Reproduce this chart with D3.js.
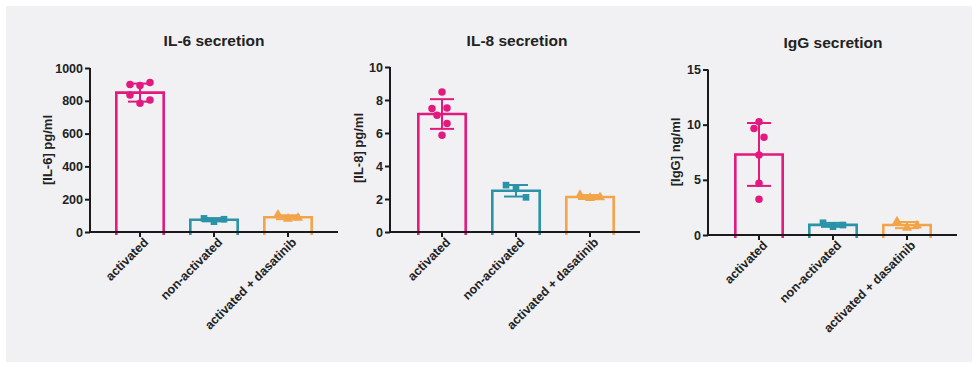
<!DOCTYPE html>
<html>
<head>
<meta charset="utf-8">
<script src="https://cdn.jsdelivr.net/npm/d3@7"></script>
<style>
  html, body { margin: 0; padding: 0; background: #ffffff; }
  svg { display: block; }
  text { font-family: "Liberation Sans", Arial, Helvetica, sans-serif; fill: #222; }
</style>
</head>
<body>
<svg id="chart" width="978" height="367"></svg>
<script>
// ---------- DATA ----------
const categories = ["activated", "non-activated", "activated + dasatinib"];
const titles = ["IL-6 secretion", "IL-8 secretion", "IgG secretion"];
const yLabels = ["[IL-6] pg/ml", "[IL-8] pg/ml", "[IgG] ng/ml"];

const il6Ticks = [0, 200, 400, 600, 800, 1000];
const il8Ticks = [0, 2, 4, 6, 8, 10];
const iggTicks = [0, 5, 10, 15];

const il6Means = [850, 75, 90];
const il6SD = [55, 10, 12];
const il6Points = [[900, 894, 912, 835, 785, 805], [83, 63, 78], [104, 80, 86]];

const il8Means = [7.15, 2.5, 2.12];
const il8SD = [0.9, 0.35, 0.12];
const il8Points = [[8.49, 7.48, 7.52, 7.08, 6.57, 5.87], [2.84, 2.64, 2.1], [2.24, 2.05, 2.1]];

const iggMeans = [7.3, 0.92, 0.9];
const iggSD = [2.85, 0.18, 0.28];
const iggPoints = [[10.26, 9.66, 8.85, 7.25, 4.68, 3.23], [1.11, 0.75, 0.9], [1.22, 0.65, 0.85]];

// ---------- LAYOUT / STYLE ----------
const colors = ["#e2197e", "#2a93a7", "#f2a449"];
const shapes = [d3.symbolCircle, d3.symbolSquare, d3.symbolTriangle];
const symbolSizes = [44, 44, 44];
const jitter6 = [[-10, 0, 10, -10, 0, 10], [0, -10, 5, -5, 5, 0], [0, -5, 5, 0, 0, 0]];
const jitter3 = [-10, 0, 10];

const panels = [
  { means: il6Means, sd: il6SD, points: il6Points, ticks: il6Ticks, max: 1000,
    axisX: 90, y0: 232, yTop: 68, band: [103, 325], titleX: 214, titleY: 46,
    labX: 49, labY: 150, j6: jitter6[0] },
  { means: il8Means, sd: il8SD, points: il8Points, ticks: il8Ticks, max: 10,
    axisX: 390, y0: 232, yTop: 67, band: [405, 627], titleX: 517, titleY: 46,
    labX: 360, labY: 148, j6: jitter6[1] },
  { means: iggMeans, sd: iggSD, points: iggPoints, ticks: iggTicks, max: 15,
    axisX: 708, y0: 235, yTop: 69.5, band: [722, 944], titleX: 833, titleY: 48,
    labX: 677, labY: 152, j6: jitter6[2] }
];

const svg = d3.select("#chart");
svg.append("rect").attr("x", 6).attr("y", 6).attr("width", 966).attr("height", 356)
  .attr("fill", "#f1f1f3");

panels.forEach((p, pi) => {
  const g = svg.append("g");
  const y = d3.scaleLinear().domain([0, p.max]).range([p.y0, p.yTop]);
  const x = d3.scaleBand().domain(categories).range(p.band)
    .paddingInner(0.36).paddingOuter(0.18);

  // title
  g.append("text").attr("x", p.titleX).attr("y", p.titleY)
    .attr("text-anchor", "middle").attr("font-size", "15.5px").attr("font-weight", "bold")
    .text(titles[pi]);

  // y label
  g.append("text")
    .attr("transform", `translate(${p.labX},${p.labY}) rotate(-90)`)
    .attr("text-anchor", "middle").attr("dominant-baseline", "middle")
    .attr("font-size", "13px").attr("font-weight", "bold")
    .text(yLabels[pi]);

  // bars
  categories.forEach((c, ci) => {
    const bx = x(c), bw = x.bandwidth();
    g.append("path")
      .attr("d", `M${bx},${p.y0 + 3}V${y(p.means[ci])}H${bx + bw}V${p.y0 + 3}`)
      .attr("fill", "none").attr("stroke", colors[ci]).attr("stroke-width", 2.6);
  });

  // y axis
  const yAxis = d3.axisLeft(y).tickValues(p.ticks).tickFormat(d3.format("d"))
    .tickSize(5).tickPadding(2);
  const ya = g.append("g").attr("transform", `translate(${p.axisX},0)`).call(yAxis);
  ya.select(".domain").attr("stroke", "#1a1a1a").attr("stroke-width", 2)
    .attr("d", `M0,${p.y0}V${p.yTop}`);
  ya.selectAll(".tick line").attr("stroke", "#1a1a1a").attr("stroke-width", 2);
  ya.selectAll(".tick text").attr("font-size", "12.5px").attr("font-weight", "bold")
    .attr("font-family", "Liberation Sans, Arial, sans-serif").attr("fill", "#222");

  // x axis
  const xAxis = d3.axisBottom(x).tickSize(5).tickPadding(3);
  const xa = g.append("g").attr("transform", `translate(0,${p.y0})`).call(xAxis);
  const xEnd = x(categories[2]) + x.bandwidth() / 2 + 50;
  xa.select(".domain").attr("stroke", "#1a1a1a").attr("stroke-width", 2)
    .attr("d", `M${p.axisX - 1},0H${xEnd}`);
  xa.selectAll(".tick line").attr("stroke", "#1a1a1a").attr("stroke-width", 2);
  xa.selectAll(".tick text")
    .attr("font-size", "12.5px").attr("font-weight", "bold")
    .attr("font-family", "Liberation Sans, Arial, sans-serif").attr("fill", "#222")
    .attr("text-anchor", "end")
    .attr("transform", "translate(6,8) rotate(-45)")
    .attr("dy", "0.35em").attr("y", 0).attr("x", 0);

  // error bars + points
  categories.forEach((c, ci) => {
    const cx = x(c) + x.bandwidth() / 2;
    const m = p.means[ci], s = p.sd[ci];
    const eg = g.append("g").attr("stroke", colors[ci]).attr("stroke-width", 2);
    eg.append("line").attr("x1", cx).attr("x2", cx).attr("y1", y(m + s)).attr("y2", y(m - s));
    eg.append("line").attr("x1", cx - 12).attr("x2", cx + 12).attr("y1", y(m + s)).attr("y2", y(m + s));
    eg.append("line").attr("x1", cx - 12).attr("x2", cx + 12).attr("y1", y(m - s)).attr("y2", y(m - s));

    const pts = p.points[ci];
    const jit = pts.length === 6 ? p.j6 : jitter3;
    g.selectAll(null).data(pts).enter().append("path")
      .attr("d", d3.symbol().type(shapes[ci]).size(symbolSizes[ci]))
      .attr("transform", (d, i) => `translate(${cx + jit[i]},${y(d)})`)
      .attr("fill", colors[ci]);
  });
});
</script>
</body>
</html>
